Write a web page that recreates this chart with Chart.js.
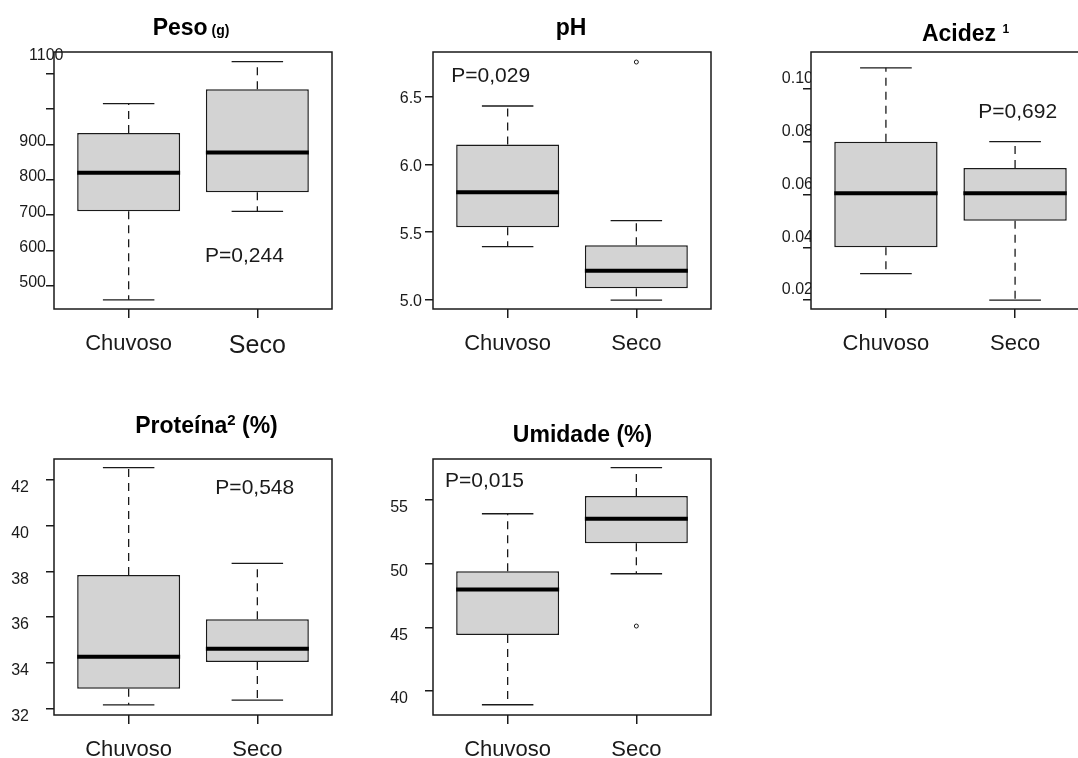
<!DOCTYPE html>
<html>
<head>
<meta charset="utf-8">
<script src="https://cdn.jsdelivr.net/npm/chart.js@4.4.1/dist/chart.umd.min.js"></script>
<style>
html, body { margin:0; padding:0; background:#fff; overflow:hidden; width:1078px; height:758px; }
canvas { position:absolute; left:-100px; top:0; }
</style>
</head>
<body>
<canvas id="peso" width="1218" height="800"></canvas>
<canvas id="ph" width="1218" height="800"></canvas>
<canvas id="acidez" width="1218" height="800"></canvas>
<canvas id="proteina" width="1218" height="800"></canvas>
<canvas id="umidade" width="1218" height="800"></canvas>
<script>
// groups
const categories = ['Chuvoso', 'Seco'];

// box stats per group: [whisker low, Q1, median, Q3, whisker high]
const pesoBox = [[461, 711, 820, 932, 1015], [711, 765, 877, 1056, 1134]];
const phBox = [[5.394, 5.537, 5.794, 6.147, 6.43], [5.0, 5.086, 5.216, 5.404, 5.586]];
const acidezBox = [[0.030, 0.040, 0.0605, 0.080, 0.108], [0.020, 0.050, 0.0605, 0.070, 0.080]];
const proteinaBox = [[32.15, 32.86, 34.26, 37.84, 42.54], [32.36, 34.03, 34.61, 35.9, 38.35]];
const umidadeBox = [[38.92, 44.4, 47.98, 49.4, 53.92], [49.21, 51.6, 53.53, 55.31, 57.54]];

// outliers per group
const phOut = [[], [6.754]];
const umidadeOut = [[], [45.1]];

// y ticks and their labels
const pesoTicks = [500, 600, 700, 800, 900, 1000, 1100];
const pesoTickLabels = ['500', '600', '700', '800', '900', '', ''];
const phTicks = [5.0, 5.5, 6.0, 6.5];
const phTickLabels = ['5.0', '5.5', '6.0', '6.5'];
const acidezTicks = [0.02, 0.04, 0.06, 0.08, 0.10];
const acidezTickLabels = ['0.02', '0.04', '0.06', '0.08', '0.10'];
const proteinaTicks = [32, 34, 36, 38, 40, 42];
const proteinaTickLabels = ['32', '34', '36', '38', '40', '42'];
const umidadeTicks = [40, 45, 50, 55];
const umidadeTickLabels = ['40', '45', '50', '55'];

// p-values
const pValues = ['P=0,244', 'P=0,029', 'P=0,692', 'P=0,548', 'P=0,015'];

const FONT = '"Liberation Sans", Arial, Helvetica, sans-serif';
const INK = '#1a1a1a';
const SHIFT = 100; // canvas sits 100px left of the page

const panels = [
  { id: 'peso', box: pesoBox, out: [[], []], ticks: pesoTicks, labels: pesoTickLabels, yMin: 435, yMax: 1161,
    rect: [54, 52, 332, 309], pad: 0, lOff: -3, segSeco: 25,
    title: [{t: 'Peso', s: 23}, {t: ' (g)', s: 14}], tBase: 35, tdx: -2,
    texts: [{t: pValues[0], x: 1.9, y: 585, s: 21}, {t: '1100', x: 0.36, y: 1150, s: 16}] },
  { id: 'ph', box: phBox, out: phOut, ticks: phTicks, labels: phTickLabels, yMin: 4.934, yMax: 6.828,
    rect: [433, 52, 711, 309], pad: 3, lOff: 2,
    title: [{t: 'pH', s: 23}], tBase: 35, tdx: -1,
    texts: [{t: pValues[1], x: 0.868, y: 6.65, s: 21}] },
  { id: 'acidez', box: acidezBox, out: [[], []], ticks: acidezTicks, labels: acidezTickLabels, yMin: 0.0166, yMax: 0.114,
    rect: [811, 52, 1090, 309], pad: -10, lOff: -10,
    title: [{t: 'Acidez ', s: 23}, {t: '1', s: 12, r: 8}], tBase: 40.5, tdx: 15,
    texts: [{t: pValues[2], x: 2.02, y: 0.0911, s: 21}] },
  { id: 'proteina', box: proteinaBox, out: [[], []], ticks: proteinaTicks, labels: proteinaTickLabels, yMin: 31.71, yMax: 42.92,
    rect: [54, 459, 332, 715], pad: 17, lOff: 8,
    title: [{t: 'Proteína', s: 23}, {t: '2', s: 15, r: 7.5}, {t: ' (%)', s: 23}], tBase: 432.5, tdx: 13.5,
    texts: [{t: pValues[3], x: 1.98, y: 41.64, s: 21}] },
  { id: 'umidade', box: umidadeBox, out: umidadeOut, ticks: umidadeTicks, labels: umidadeTickLabels, yMin: 38.115, yMax: 58.22,
    rect: [433, 459, 711, 715], pad: 17, lOff: 8,
    title: [{t: 'Umidade (%)', s: 23}], tBase: 441.5, tdx: 10.5,
    texts: [{t: pValues[4], x: 0.82, y: 56.5, s: 21}] }
];

function line(ctx, x1, y1, x2, y2) {
  ctx.beginPath();
  ctx.moveTo(x1, y1);
  ctx.lineTo(x2, y2);
  ctx.stroke();
}

// whiskers, caps, medians, frame, titles and p-values
function rPlugin(p) {
  return {
    id: 'rbox_' + p.id,
    afterDatasetsDraw(chart) {
      const ctx = chart.ctx, xs = chart.scales.x, ys = chart.scales.y;
      ctx.save();
      p.box.forEach((s, i) => {
        const c = i + 1;
        const cx = xs.getPixelForValue(c);
        ctx.strokeStyle = INK;
        ctx.lineWidth = 1.3;
        ctx.setLineDash([8, 6]);
        line(ctx, cx, ys.getPixelForValue(s[3]), cx, ys.getPixelForValue(s[4]));
        line(ctx, cx, ys.getPixelForValue(s[1]), cx, ys.getPixelForValue(s[0]));
        ctx.setLineDash([]);
        line(ctx, xs.getPixelForValue(c - 0.2), ys.getPixelForValue(s[4]), xs.getPixelForValue(c + 0.2), ys.getPixelForValue(s[4]));
        line(ctx, xs.getPixelForValue(c - 0.2), ys.getPixelForValue(s[0]), xs.getPixelForValue(c + 0.2), ys.getPixelForValue(s[0]));
        ctx.strokeStyle = '#000';
        ctx.lineWidth = 4;
        line(ctx, xs.getPixelForValue(c - 0.4), ys.getPixelForValue(s[2]), xs.getPixelForValue(c + 0.4), ys.getPixelForValue(s[2]));
      });
      ctx.restore();
    },
    afterDraw(chart) {
      const ctx = chart.ctx, a = chart.chartArea, xs = chart.scales.x, ys = chart.scales.y;
      ctx.save();
      ctx.strokeStyle = INK;
      ctx.lineWidth = 1.5;
      ctx.strokeRect(a.left, a.top, a.right - a.left, a.bottom - a.top);

      // title
      let w = 0;
      p.title.forEach(seg => {
        ctx.font = 'bold ' + seg.s + 'px ' + FONT;
        w += ctx.measureText(seg.t).width;
      });
      let tx = (a.left + a.right) / 2 + p.tdx - w / 2;
      ctx.fillStyle = '#000';
      ctx.textBaseline = 'alphabetic';
      ctx.textAlign = 'left';
      p.title.forEach(seg => {
        ctx.font = 'bold ' + seg.s + 'px ' + FONT;
        ctx.fillText(seg.t, tx, p.tBase - (seg.r || 0));
        tx += ctx.measureText(seg.t).width;
      });

      // texts
      ctx.fillStyle = INK;
      ctx.textAlign = 'center';
      ctx.textBaseline = 'middle';
      p.texts.forEach(t => {
        ctx.font = t.s + 'px ' + FONT;
        ctx.fillText(t.t, xs.getPixelForValue(t.x), ys.getPixelForValue(t.y));
      });
      ctx.restore();
    }
  };
}

panels.forEach(p => {
  const [L, T, R, B] = p.rect;
  const outliers = [];
  p.out.forEach((arr, i) => arr.forEach(v => outliers.push({x: i + 1, y: v})));
  new Chart(document.getElementById(p.id), {
    type: 'bar',
    data: {
      datasets: [{
        data: p.box.map((s, i) => ({x: i + 1, y: [s[1], s[3]]})),
        backgroundColor: '#d3d3d3',
        borderColor: INK,
        borderWidth: 1.5,
        borderSkipped: false,
        barPercentage: 0.8,
        categoryPercentage: 1
      }, {
        type: 'scatter',
        data: outliers,
        pointRadius: 2,
        pointBorderWidth: 1,
        borderColor: INK,
        backgroundColor: 'rgba(255,255,255,0)'
      }]
    },
    options: {
      responsive: false,
      animation: false,
      layout: {
        autoPadding: false,
        padding: {left: L + SHIFT - 70, top: T, right: 1218 - SHIFT - R, bottom: 800 - B - 50}
      },
      plugins: {legend: {display: false}, tooltip: {enabled: false}},
      scales: {
        x: {
          type: 'linear', min: 0.42, max: 2.58, offset: false,
          afterBuildTicks: s => { s.ticks = [{value: 1}, {value: 2}]; },
          afterFit: s => { s.height = 50; s.paddingLeft = 0; s.paddingRight = 0; },
          border: {display: false},
          grid: {drawOnChartArea: false, drawTicks: true, tickLength: 9, color: INK, lineWidth: 1.5, offset: false},
          ticks: {
            autoSkip: false, maxRotation: 0, padding: 13, color: INK,
            callback: v => categories[v - 1],
            font: ctx => ({family: FONT, size: (p.segSeco && ctx.index === 1) ? p.segSeco : 22})
          }
        },
        y: {
          type: 'linear', min: p.yMin, max: p.yMax,
          afterBuildTicks: s => { s.ticks = p.ticks.map(v => ({value: v})); },
          afterFit: s => { s.width = 70; s.paddingTop = 0; s.paddingBottom = 0; },
          border: {display: false},
          grid: {drawOnChartArea: false, drawTicks: true, tickLength: 8, color: INK, lineWidth: 1.5},
          ticks: {
            autoSkip: false, padding: p.pad, labelOffset: p.lOff, color: INK,
            font: {family: FONT, size: 16},
            callback: (v, i) => p.labels[i]
          }
        }
      }
    },
    plugins: [rPlugin(p)]
  });
});
</script>
</body>
</html>
